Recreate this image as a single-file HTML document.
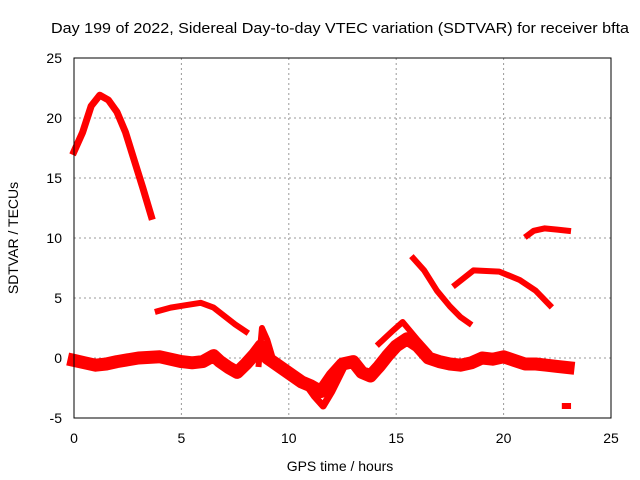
<!DOCTYPE html>
<html><head><meta charset="utf-8"><style>body{margin:0;background:#fff}svg{display:block;font-family:"Liberation Sans",sans-serif}</style></head>
<body>
<svg id="c" width="640" height="480">
<text x="340" y="33" font-size="15" text-anchor="middle" textLength="578" lengthAdjust="spacingAndGlyphs">Day 199 of 2022, Sidereal Day-to-day VTEC variation (SDTVAR) for receiver bfta</text>
<text x="340" y="471" font-size="14" text-anchor="middle">GPS time / hours</text>
<text transform="translate(18,238) rotate(-90)" font-size="14" text-anchor="middle">SDTVAR / TECUs</text>
<g id="grid"></g><g id="data"></g>
<rect x="74" y="58" width="537" height="360" fill="none" stroke="#000" stroke-width="1"/>
</svg>
<script>
const xTicks=[0,5,10,15,20,25];
const yTicks=[-5,0,5,10,15,20,25];
const arcHigh=[[0,17.2],[0.4,18.8],[0.8,21],[1.2,21.9],[1.6,21.5],[2.0,20.5],[2.4,18.8],[2.8,16.5],[3.2,14.2],[3.6,11.8]];
const arcMid=[[3.9,3.9],[4.5,4.2],[5.2,4.4],[5.9,4.6],[6.5,4.2],[7.0,3.5],[7.5,2.8],[8.0,2.2]];
const fallLine=[[15.8,8.3],[16.3,7.3],[16.9,5.6],[17.5,4.3],[18.0,3.4],[18.4,2.9]];
const arcLate=[[17.75,6.1],[18.6,7.3],[19.8,7.2],[20.75,6.5],[21.5,5.6],[22.15,4.4]];
const topLate=[[21.1,10.2],[21.4,10.6],[21.9,10.8],[22.5,10.7],[23,10.6]];
const mainBand=[[0,-0.2],[0.5,-0.4],[1,-0.6],[1.5,-0.5],[2,-0.3],[3,0],[4,0.1],[5,-0.3],[5.5,-0.4],[6,-0.3],[6.5,0.2],[6.8,-0.3],[7.2,-0.8],[7.6,-1.2],[8,-0.5],[8.4,0.3],[8.7,1],[9,0],[9.4,-0.5],[9.8,-1],[10.2,-1.5],[10.6,-2],[11,-2.3],[11.5,-2.8],[12,-1.5],[12.5,-0.5],[13,-0.3],[13.4,-1.2],[13.8,-1.5],[14.2,-0.7],[14.6,0.2],[15,1],[15.5,1.6],[16,1],[16.5,0],[17,-0.3],[17.5,-0.5],[18,-0.6],[18.5,-0.4],[19,0],[19.5,-0.1],[20,0.1],[20.5,-0.2],[21,-0.5],[21.5,-0.5],[22,-0.6],[22.5,-0.7],[23,-0.8]];
const upperBranch=[[14.2,1.2],[14.8,2.2],[15.3,3],[16,1.5],[16.5,0.5]];
const lowerBranch=[[10.8,-2.2],[11.2,-3.2],[11.6,-4],[12,-2.8],[12.5,-1]];
const spikeBranch=[[8.6,-0.5],[8.75,2.5],[9.0,1.5],[9.3,-0.3]];
const isolated=[[22.85,-4]];
const sx=h=>74+h*537/25, sy=v=>418-(v+5)*12;
const ns="http://www.w3.org/2000/svg";
const g=document.getElementById('grid'), d=document.getElementById('data');
xTicks.forEach(t=>{const x=sx(t);
 if(t>0&&t<25){const l=document.createElementNS(ns,'line');l.setAttribute('x1',x);l.setAttribute('x2',x);l.setAttribute('y1',58);l.setAttribute('y2',418);l.setAttribute('stroke','#999');l.setAttribute('stroke-dasharray','2,3');
 
 g.appendChild(l);}
 const tx=document.createElementNS(ns,'text');tx.setAttribute('x',x);tx.setAttribute('y',443);tx.setAttribute('font-size','14');tx.setAttribute('text-anchor','middle');tx.textContent=t;
 
 g.appendChild(tx);});
yTicks.forEach(t=>{const y=sy(t);
 if(t>-5&&t<25){const l=document.createElementNS(ns,'line');l.setAttribute('x1',74);l.setAttribute('x2',611);l.setAttribute('y1',y);l.setAttribute('y2',y);l.setAttribute('stroke','#999');l.setAttribute('stroke-dasharray','2,3');
 
 g.appendChild(l);}
 const tx=document.createElementNS(ns,'text');tx.setAttribute('x',62);tx.setAttribute('y',y+5);tx.setAttribute('font-size','14');tx.setAttribute('text-anchor','end');tx.textContent=t;
 
 g.appendChild(tx);});
function line(pts,w,name){const p=document.createElementNS(ns,'polyline');
 p.setAttribute('points',pts.map(q=>sx(q[0])+','+sy(q[1])).join(' '));
 p.setAttribute('fill','none');p.setAttribute('stroke','#f00');p.setAttribute('stroke-width',w);p.setAttribute('stroke-linejoin','round');p.setAttribute('stroke-linecap','square');
 
 d.appendChild(p);}
line(arcHigh,7,'series-high-arc');line(arcMid,6,'series-mid-arc');line(fallLine,6,'series-falling');
line(arcLate,6,'series-late-arc');line(topLate,6,'series-late-top');line(mainBand,13,'series-main-band');
line(upperBranch,6,'series-upper-branch');line(lowerBranch,7,'series-lower-branch');line(spikeBranch,6,'series-spike-branch');
line(isolated.concat([[isolated[0][0]+0.15,isolated[0][1]]]),6,'series-isolated-point');
</script>
</body></html>
